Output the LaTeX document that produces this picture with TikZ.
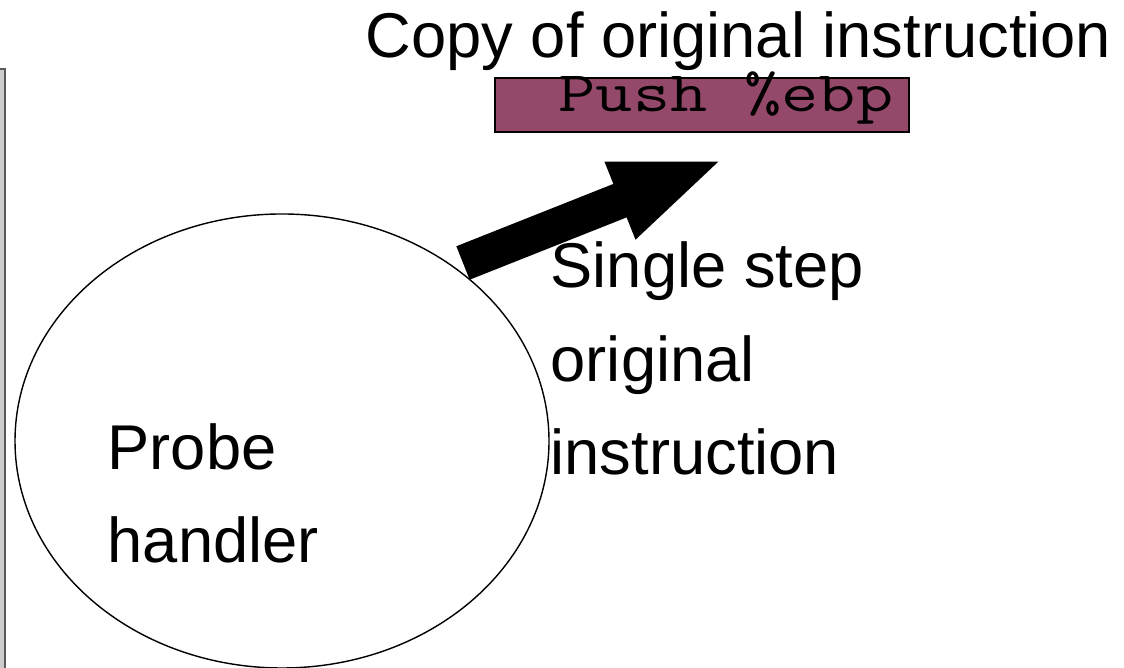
\documentclass[tikz,border=0pt]{standalone}
\usepackage{fontspec}
\setmainfont{Liberation Sans}
\usetikzlibrary{shapes.geometric,arrows.meta}
\definecolor{instrcolor}{RGB}{148,72,106}
\begin{document}
\begin{tikzpicture}[
    label text/.style={anchor=base west, inner sep=0pt, font=\fontsize{18}{26.7}\selectfont, align=left}]
      \useasboundingbox (0,0) rectangle (11.24,6.68);
      % Side bar
      \draw[draw=black!65, fill=black!20] (-0.2,-0.2) rectangle (0.05,5.99);
      % Probe handler
      \node[draw, ellipse, minimum width=5.34cm, minimum height=4.54cm, inner sep=0pt] (handler) at (2.82,2.27) {};
      \node[label text] (handlertext) at (1.07,1.05) {Probe\\handler};
      % Copied instruction
      \node[label text] (copytitle) at (3.65,6.10) {Copy of original instruction};
      \node[draw, fill=instrcolor, minimum width=4.14cm, minimum height=0.54cm, inner sep=0pt] (copybox) at (7.02,5.63) {};
      \node[anchor=base west, inner sep=0pt, font=\ttfamily\fontsize{16.3}{18}\selectfont] (copytext) at (5.58,5.56) {\scalebox{1.26}[1]{Push \%ebp}};
      % Single step arrow
      \coordinate (stepfrom) at (4.63,4.05);
      \coordinate (stepto) at (7.25,5.09);
      \draw[line width=0.36cm, -{Triangle[length=1.13cm, width=0.74cm]}] (stepfrom) -- (stepto);
      \node[label text] (steptext) at (5.50,1.93) {Single step\\original\\instruction};
\end{tikzpicture}
\end{document}
